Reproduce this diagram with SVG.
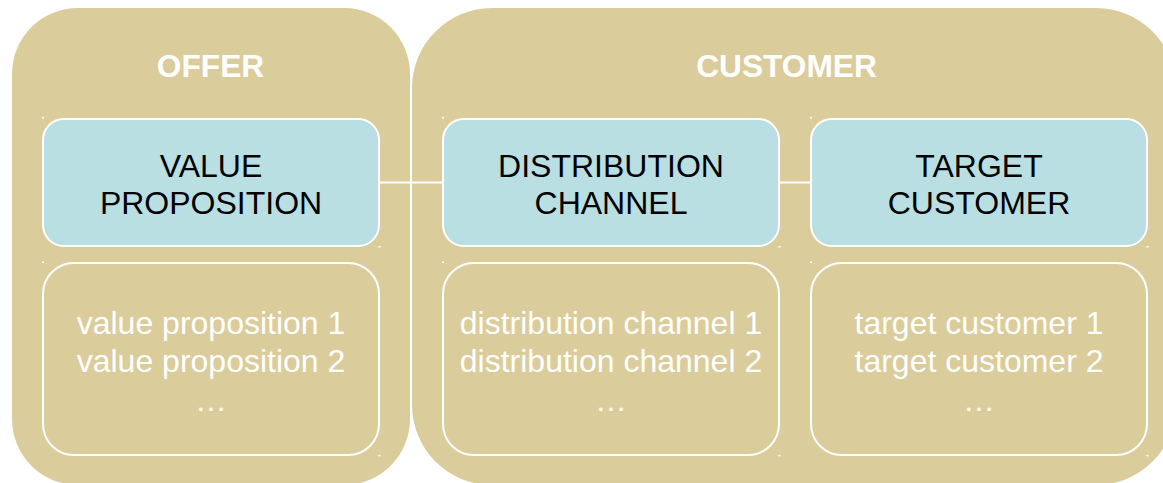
<svg xmlns="http://www.w3.org/2000/svg" width="1163" height="483" viewBox="0 0 1163 483">
  <style>
    .group { fill: #DBCC9B; }
    .head { fill: #B9DFE3; stroke: #FFFFFF; stroke-width: 2; }
    .list { fill: #DBCC9B; stroke: #FFFFFF; stroke-width: 2; }
    .mark { fill: #FFFFFF; }
    .title { font-family: "Liberation Sans", Arial, sans-serif; font-weight: bold; font-size: 31.7px; fill: #FFFFFF; text-anchor: middle; }
    .headtxt { font-family: "Liberation Sans", Arial, sans-serif; font-size: 32px; fill: #000000; text-anchor: middle; }
    .listtxt { font-family: "Liberation Sans", Arial, sans-serif; font-size: 32px; fill: #FFFFFF; text-anchor: middle; }
    .link { stroke: #FFFFFF; stroke-width: 2; fill: none; }
  </style>

  <rect width="1163" height="483" fill="#FFFFFF"/>

  <!-- outer groups -->
  <g id="offer">
    <rect class="group" x="12" y="8" width="398" height="477" rx="66" ry="66"/>
    <text class="title" x="210.5" y="77">OFFER</text>
  </g>
  <g id="customer">
    <rect class="group" x="412" y="8" width="764" height="477" rx="80" ry="80"/>
    <text class="title" x="786.5" y="76.5">CUSTOMER</text>
  </g>

  <!-- connectors between header boxes -->
  <g id="connectors">
    <line class="link" x1="379" y1="182.5" x2="443" y2="182.5"/>
    <line class="link" x1="779" y1="182.5" x2="811" y2="182.5"/>
  </g>

  <!-- header boxes -->
  <g id="value-proposition">
    <rect class="head" x="43" y="119" width="336" height="127" rx="21" ry="21"/>
    <rect class="mark" x="42" y="117" width="2" height="1.5"/>
    <rect class="mark" x="378.5" y="246" width="2" height="1.5"/>
    <text class="headtxt" x="211" y="176.5">VALUE</text>
    <text class="headtxt" x="211" y="214">PROPOSITION</text>
  </g>
  <g id="distribution-channel">
    <rect class="head" x="443" y="119" width="336" height="127" rx="21" ry="21"/>
    <rect class="mark" x="442" y="117" width="2" height="1.5"/>
    <rect class="mark" x="778.5" y="246" width="2" height="1.5"/>
    <text class="headtxt" x="611" y="176.5">DISTRIBUTION</text>
    <text class="headtxt" x="611" y="214">CHANNEL</text>
  </g>
  <g id="target-customer">
    <rect class="head" x="811" y="119" width="336" height="127" rx="21" ry="21"/>
    <rect class="mark" x="810" y="117" width="2" height="1.5"/>
    <rect class="mark" x="1146.5" y="246" width="2" height="1.5"/>
    <text class="headtxt" x="979" y="176.5">TARGET</text>
    <text class="headtxt" x="979" y="214">CUSTOMER</text>
  </g>

  <!-- list boxes -->
  <g id="value-proposition-list">
    <rect class="list" x="43" y="263" width="336" height="192" rx="31" ry="31"/>
    <rect class="mark" x="42" y="261.5" width="2" height="1.5"/>
    <rect class="mark" x="378.5" y="455" width="2" height="1.5"/>
    <text class="listtxt" x="211" y="333.5">value proposition 1</text>
    <text class="listtxt" x="211" y="372">value proposition 2</text>
    <text class="listtxt" x="211" y="410.5">…</text>
  </g>
  <g id="distribution-channel-list">
    <rect class="list" x="443" y="263" width="336" height="192" rx="31" ry="31"/>
    <rect class="mark" x="442" y="261.5" width="2" height="1.5"/>
    <rect class="mark" x="778.5" y="455" width="2" height="1.5"/>
    <text class="listtxt" x="611" y="333.5">distribution channel 1</text>
    <text class="listtxt" x="611" y="372">distribution channel 2</text>
    <text class="listtxt" x="611" y="410.5">…</text>
  </g>
  <g id="target-customer-list">
    <rect class="list" x="811" y="263" width="336" height="192" rx="31" ry="31"/>
    <rect class="mark" x="810" y="261.5" width="2" height="1.5"/>
    <rect class="mark" x="1146.5" y="455" width="2" height="1.5"/>
    <text class="listtxt" x="979" y="333.5">target customer 1</text>
    <text class="listtxt" x="979" y="372">target customer 2</text>
    <text class="listtxt" x="979" y="410.5">…</text>
  </g>
</svg>
